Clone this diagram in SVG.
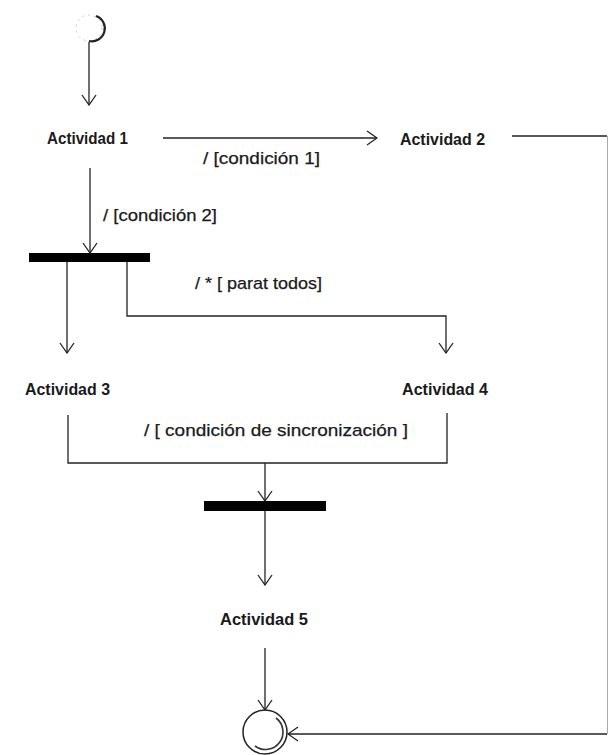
<svg xmlns="http://www.w3.org/2000/svg" width="610" height="755" viewBox="0 0 610 755">
  <defs>
    <style>
      .act { font-family: "Liberation Sans", Arial, sans-serif; font-size: 17px; font-weight: bold; fill: #1a1a1a; }
      .lbl { font-family: "Liberation Sans", Arial, sans-serif; font-size: 17px; fill: #1a1a1a; stroke: #1a1a1a; stroke-width: 0.25; }
      .edge { fill: none; stroke: #222; stroke-width: 1.3; }
      .bar { fill: #000; }
    </style>
    <marker id="open" viewBox="0 0 12 16" refX="11" refY="8" markerWidth="12" markerHeight="16" markerUnits="userSpaceOnUse" orient="auto">
      <path d="M1,1 L11,8 L1,15" fill="none" stroke="#222" stroke-width="1.3"/>
    </marker>
  </defs>
  <rect width="610" height="755" fill="#fff"/>

  <!-- start state -->
  <g id="start">
    <circle cx="89" cy="28" r="13" fill="none" stroke="#c8c8c8" stroke-width="1" stroke-dasharray="2 4"/>
    <path d="M96,16 A13,13 0 0 1 89,41" fill="none" stroke="#222" stroke-width="2.2"/>
  </g>

  <g id="actividad1"><text class="act" x="47" y="144" textLength="81" lengthAdjust="spacingAndGlyphs">Actividad 1</text></g>
  <g id="actividad2"><text class="act" x="400" y="145" textLength="85" lengthAdjust="spacingAndGlyphs">Actividad 2</text></g>
  <g id="fork"><rect class="bar" x="29" y="253" width="121" height="9"/></g>
  <g id="actividad3"><text class="act" x="25" y="395" textLength="85" lengthAdjust="spacingAndGlyphs">Actividad 3</text></g>
  <g id="actividad4"><text class="act" x="402" y="395" textLength="86" lengthAdjust="spacingAndGlyphs">Actividad 4</text></g>
  <g id="join"><rect class="bar" x="204" y="501" width="122" height="10"/></g>
  <g id="actividad5"><text class="act" x="220" y="625" textLength="88" lengthAdjust="spacingAndGlyphs">Actividad 5</text></g>

  <!-- end state -->
  <g id="end">
    <circle cx="265" cy="732" r="22" fill="none" stroke="#222" stroke-width="1.5"/>
    <path d="M276,718 A16,16 0 0 1 255,746" fill="none" stroke="#333" stroke-width="1.6"/>
  </g>

  <g id="connectors">
    <path class="edge" d="M89,42 V105" marker-end="url(#open)"/>
    <path class="edge" d="M163,138 H377" marker-end="url(#open)"/>
    <path class="edge" d="M90,168 V253" marker-end="url(#open)"/>
    <path class="edge" d="M67,262 V353" marker-end="url(#open)"/>
    <path class="edge" d="M127,262 V316 H446 V353" marker-end="url(#open)"/>
    <path class="edge" d="M68,415 V463 H447 V413"/>
    <path class="edge" d="M265,463 V501" marker-end="url(#open)"/>
    <path class="edge" d="M265,511 V585" marker-end="url(#open)"/>
    <path class="edge" d="M265,648 V710" marker-end="url(#open)"/>
    <path class="edge" d="M512,136 H607"/>
    <path d="M607.5,136 V734" fill="none" stroke="#aaa" stroke-width="1"/>
    <path class="edge" d="M607,734 H288" marker-end="url(#open)"/>
  </g>

  <g id="labels">
    <text class="lbl" x="203" y="164" textLength="117" lengthAdjust="spacingAndGlyphs">/ [condición 1]</text>
    <text class="lbl" x="103" y="221" textLength="114" lengthAdjust="spacingAndGlyphs">/ [condición 2]</text>
    <text class="lbl" x="195" y="289" textLength="127" lengthAdjust="spacingAndGlyphs">/ * [ parat todos]</text>
    <text class="lbl" x="144" y="436" textLength="264" lengthAdjust="spacingAndGlyphs">/ [ condición de sincronización ]</text>
  </g>
</svg>
